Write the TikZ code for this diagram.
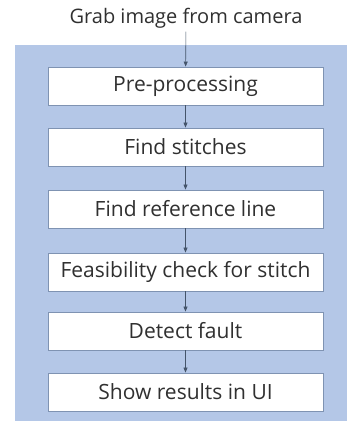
\documentclass[tikz,border=0pt]{standalone}
\usepackage{fontspec}
\setmainfont{Open Sans}
\usetikzlibrary{arrows.meta}
\definecolor{panelblue}{HTML}{B4C7E7}
\definecolor{boxline}{HTML}{7F93B2}
\definecolor{arrowblue}{HTML}{44546A}
\definecolor{textgray}{HTML}{303030}
\begin{document}
\begin{tikzpicture}[x=1pt, y=-1pt, font=\fontsize{21}{25}\selectfont, text=textgray,
	step box/.style={draw=boxline, line width=0.9pt, fill=white, minimum width=275pt, minimum height=38pt, inner sep=0pt},
	flow/.style={-{Triangle[length=5pt, width=4pt]}, draw=arrowblue, line width=0.6pt}]
	\useasboundingbox (0,0) rectangle (347,430);
	\fill[panelblue] (15,45) rectangle (347,421);
	\node[font=\fontsize{20}{24}\selectfont] (G) at (186,18) {Grab image from camera};
	\node[step box] (P1) at (185.5,86) {Pre-processing};
	\node[step box] (P2) at (185.5,147) {Find stitches};
	\node[step box] (P3) at (185.5,209) {Find reference line};
	\node[step box] (P4) at (185.5,272) {Feasibility check for stitch};
	\node[step box] (P5) at (185.5,331) {Detect fault};
	\node[step box] (P6) at (185.5,392) {Show results in UI};
	\draw[flow] (G) -- (P1);
	\draw[flow] (P1) -- (P2);
	\draw[flow] (P2) -- (P3);
	\draw[flow] (P3) -- (P4);
	\draw[flow] (P4) -- (P5);
	\draw[flow] (P5) -- (P6);
\end{tikzpicture}
\end{document}
